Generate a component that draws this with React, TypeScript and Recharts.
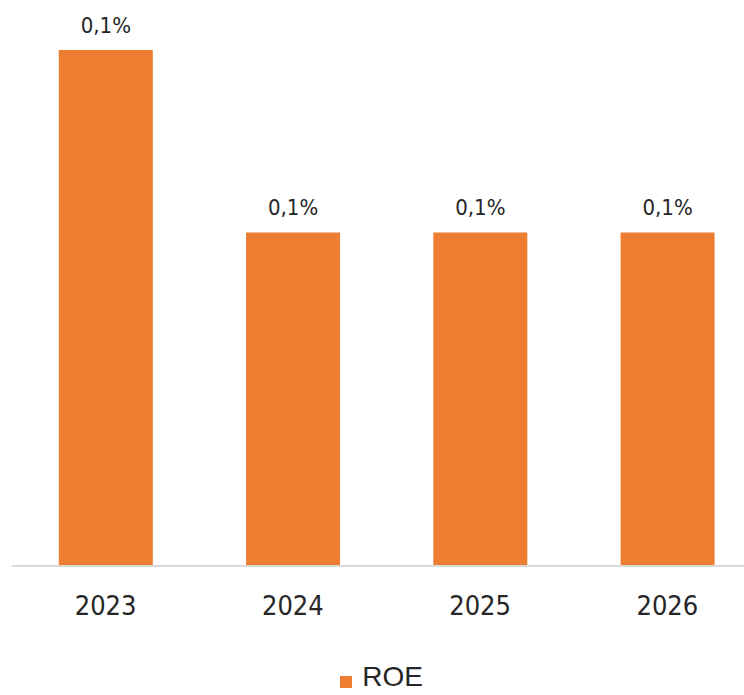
import { BarChart, Bar, XAxis, YAxis, Legend, LabelList } from "recharts";

const years = ["2023", "2024", "2025", "2026"];
const roe = [0.14, 0.0905, 0.0905, 0.0905];

const data = years.map((y, i) => ({ year: y, roe: roe[i] }));

const NARROW = '"Liberation Sans Narrow", "DejaVu Sans Condensed", "Roboto Condensed", Arial, sans-serif';
const ORANGE = "#ED7D31";

const fmt = (v: any) => `${Number(v).toFixed(1).replace(".", ",")}%`;

export default function App() {
  return (
    <div
      style={{
        position: "absolute",
        left: 0,
        top: 0,
        width: 744,
        height: 695,
        overflow: "hidden",
        background: "#fff",
      }}
    >
      <BarChart
        width={770}
        height={695}
        data={data}
        margin={{ top: 50, right: 9, left: 12, bottom: 2 }}
        barCategoryGap="25%"
      >
        <YAxis hide domain={[0, "dataMax"]} />
        <XAxis
          dataKey="year"
          axisLine={{ stroke: "#d9d9d9", strokeWidth: 2 }}
          tickLine={false}
          tickMargin={24}
          height={95}
          tick={{ fill: "#262626", fontSize: 27, fontFamily: NARROW }}
        />
        <Legend
          verticalAlign="bottom"
          iconType="square"
          iconSize={12}
          formatter={(v) => (
            <span
              style={{
                color: "#262626",
                fontSize: 28,
                fontFamily: "Arial, 'Liberation Sans', sans-serif",
                marginLeft: 6,
              }}
            >
              {v}
            </span>
          )}
        />
        <Bar dataKey="roe" name="ROE" fill={ORANGE} isAnimationActive={false}>
          <LabelList
            dataKey="roe"
            position="top"
            offset={17}
            formatter={fmt}
            style={{ fill: "#262626", fontSize: 22, fontFamily: NARROW }}
          />
        </Bar>
      </BarChart>
    </div>
  );
}
